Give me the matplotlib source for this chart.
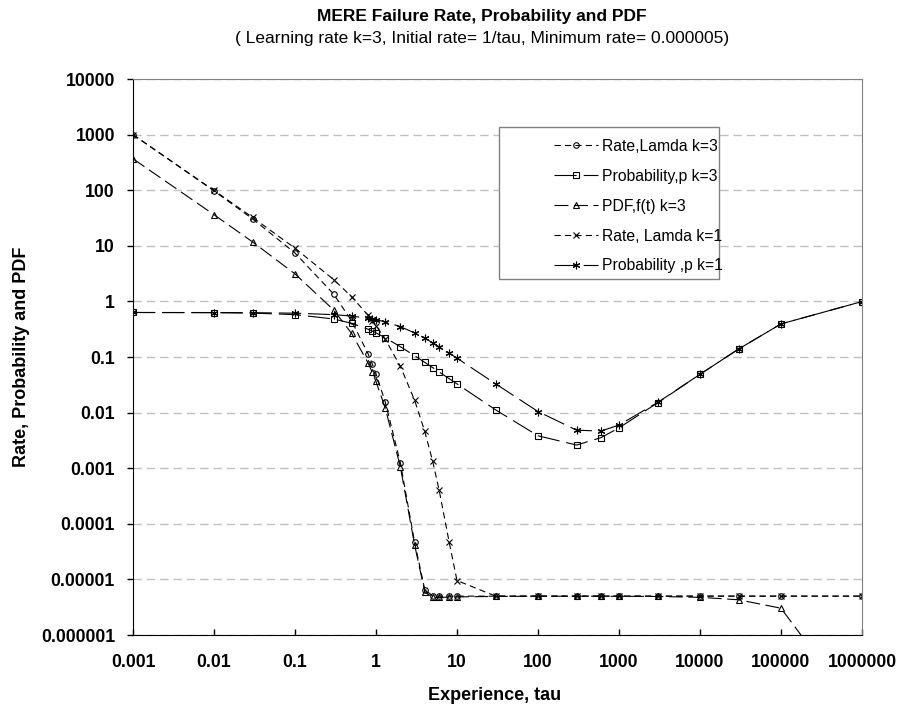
import matplotlib
matplotlib.use("Agg")
import matplotlib.pyplot as plt
from matplotlib.patches import Rectangle

plt.rcParams['font.family'] = ['Liberation Sans', 'DejaVu Sans']
plt.rcParams['lines.scale_dashes'] = False

# experience, tau
tau = [0.001, 0.01, 0.03, 0.1, 0.3, 0.5, 0.8, 0.9, 1, 1.3, 2, 3, 4, 5, 6, 8, 10,
       30, 100, 300, 600, 1000, 3000, 10000, 30000, 100000, 1000000]

rate_k3 = [997.0, 97.04, 30.46, 7.408, 1.355, 0.4463, 0.1134, 0.07468, 0.04979,
           0.01557, 0.001244, 4.61e-5, 6.54e-6, 5.06e-6, 5.0e-6, 5e-6, 5e-6,
           5e-6, 5e-6, 5e-6, 5e-6, 5e-6, 5e-6, 5e-6, 5e-6, 5e-6, 5e-6]
prob_k3 = [0.6316, 0.6266, 0.6157, 0.5785, 0.4828, 0.4042, 0.3154, 0.2921, 0.2714,
           0.2221, 0.1532, 0.1052, 0.0800, 0.0645, 0.0540, 0.0408, 0.0328,
           0.0112, 0.003826, 0.002608, 0.00355, 0.00532, 0.0150, 0.0488, 0.1393,
           0.3935, 0.9933]
pdf_k3 = [367.3, 36.24, 11.71, 3.122, 0.7008, 0.2659, 0.07763, 0.05287, 0.03628,
          0.01211, 0.001053, 4.13e-5, 6.02e-6, 4.73e-6, 4.73e-6, 4.80e-6, 4.84e-6,
          4.94e-6, 4.98e-6, 4.99e-6, 4.98e-6, 4.97e-6, 4.93e-6, 4.76e-6, 4.30e-6,
          3.03e-6, 3.37e-8]
rate_k1 = [999.0, 99.0, 32.35, 9.048, 2.469, 1.213, 0.5617, 0.4517, 0.3679,
           0.2096, 0.06767, 0.0166, 0.00458, 0.001348, 0.000413, 4.69e-5, 9.54e-6,
           5e-6, 5e-6, 5e-6, 5e-6, 5e-6, 5e-6, 5e-6, 5e-6, 5e-6, 5e-6]
prob_k1 = [0.6319, 0.6303, 0.6266, 0.6139, 0.5785, 0.5447, 0.4976, 0.4828, 0.4685,
           0.4286, 0.3510, 0.2714, 0.2176, 0.1802, 0.1532, 0.1175, 0.0952,
           0.03293, 0.01045, 0.004822, 0.004656, 0.00598, 0.01522, 0.04887, 0.1393,
           0.3935, 0.9933]

x_ticks = [0.001, 0.01, 0.1, 1, 10, 100, 1000, 10000, 100000, 1000000]
x_labels = ['0.001', '0.01', '0.1', '1', '10', '100', '1000', '10000', '100000', '1000000']
y_ticks = [1e-6, 1e-5, 1e-4, 1e-3, 1e-2, 1e-1, 1, 10, 100, 1000, 10000]
y_labels = ['0.000001', '0.00001', '0.0001', '0.001', '0.01', '0.1', '1', '10',
            '100', '1000', '10000']

W, H = 900, 708
fig = plt.figure(figsize=(W / 100, H / 100), dpi=100)
ax = fig.add_axes([133 / W, 1 - 635 / H, (862 - 133) / W, (635 - 79) / H])
ax.set_xscale('log')
ax.set_yscale('log')

rate_ls = (0, (4.5, 3))
pdf_ls = (0, (10, 4))
prob_ls = (0, (16, 5))
kw = dict(color='black', lw=0.8, mew=0.8)

ax.plot(tau, rate_k3, ls=rate_ls, marker='o', ms=4, mfc='none', label='Rate,Lamda k=3', **kw)
ax.plot(tau, prob_k3, ls=prob_ls, marker='s', ms=4, mfc='none', label='Probability,p k=3', **kw)
ax.plot(tau, pdf_k3, ls=pdf_ls, marker='^', ms=4.2, mfc='none', label='PDF,f(t) k=3', **kw)
ax.plot(tau, rate_k1, ls=rate_ls, marker='x', ms=4.8, label='Rate, Lamda k=1', **kw)
ax.plot(tau, prob_k1, ls=prob_ls, marker=(6, 2, 0), ms=5.5, label='Probability ,p k=1', **kw)

ax.set_xlim(0.001, 1000000)
ax.set_ylim(1e-6, 1e4)
ax.set_xticks(x_ticks, labels=x_labels)
ax.set_yticks(y_ticks, labels=y_labels)
ax.minorticks_off()
ax.yaxis.grid(True, color='#c0c0c0', ls=(0, (6, 3.6)), lw=1)
ax.set_axisbelow(True)

for lab in ax.get_xticklabels() + ax.get_yticklabels():
    lab.set_fontweight('bold')
ax.tick_params(axis='x', direction='in', length=4, width=1, labelsize=12.7, pad=14)
ax.tick_params(axis='y', direction='out', length=4, width=1, labelsize=12.7, pad=9)

ax.spines['left'].set_color('black')
ax.spines['bottom'].set_color('black')
ax.spines['top'].set_color('#808080')
ax.spines['right'].set_color('#808080')

# legend box
ax.add_patch(Rectangle((499 / W, 1 - 279 / H), 220 / W, 152 / H, transform=fig.transFigure,
                       facecolor='white', edgecolor='#808080', lw=1, zorder=4, clip_on=False))
ax.legend(loc='upper left', bbox_to_anchor=(546 / W, 1 - 131 / H), bbox_transform=fig.transFigure,
          frameon=False, fontsize=11.3, handlelength=2.8, handletextpad=0.25,
          labelspacing=0.95, borderpad=0)

fig.text(482 / W, 1 - 16 / H, 'MERE Failure Rate, Probability and PDF', ha='center', va='center',
         fontsize=12.5, fontweight='bold')
fig.text(482 / W, 1 - 39 / H, '( Learning rate k=3, Initial rate= 1/tau, Minimum rate= 0.000005)',
         ha='center', va='center', fontsize=12.5)
fig.text(495 / W, 1 - 695 / H, 'Experience, tau', ha='center', va='center',
         fontsize=13, fontweight='bold')
fig.text(22 / W, 1 - 357 / H, 'Rate, Probability and PDF', ha='center', va='center',
         rotation=90, fontsize=13, fontweight='bold')

fig.savefig('out.png', dpi=100)
